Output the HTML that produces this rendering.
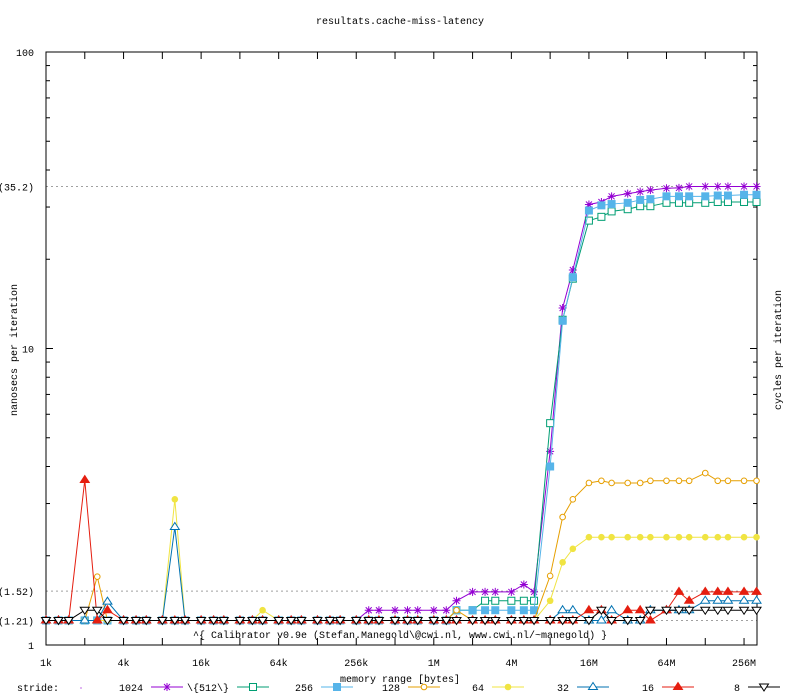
<!DOCTYPE html>
<html><head><meta charset="utf-8"><style>
body{margin:0;background:#fff}
svg{display:block;font-family:"Liberation Mono",monospace;font-size:10px}
</style></head><body>
<svg id="c" width="800" height="700" xmlns="http://www.w3.org/2000/svg"></svg>
<script>
const seriesNames=["1024","\\{512\\}","256","128","64","32","16","8"];
const seriesColors=["#9400d3","#009e73","#56b4e9","#e69f00","#f0e442","#0072b2","#e51e10","#000000"];
const seriesMarkers=["star","osq","fsq","ocirc","fcirc","otri","ftri","itri"];
const xTickLabels=["1k","4k","16k","64k","256k","1M","4M","16M","64M","256M"];
const yTickValues=[1,10,100];
const yMarkValues=[1.21,1.52,35.2];
function fill(n,v){return Array(n).fill(v);}
const s1024=[...fill(25,1.21),...fill(7,1.31),1.41,1.51,1.51,1.51,1.51,1.6,1.51,4.5,13.7,18.4,30.6,31.2,32.6,33.3,33.8,34.2,34.7,34.8,35.2,35.2,35.2,35.2,35.2,35.2];
const s512=[...fill(32,1.21),1.31,1.31,1.41,1.41,1.41,1.41,1.41,5.6,12.5,17.2,27,27.8,29,29.5,30.2,30.2,31,31,31,31,31.2,31.2,31.2,31.2];
const s256=[...fill(32,1.21),1.31,1.31,1.31,1.31,1.31,1.31,1.31,4.0,12.4,17.4,29.2,30.4,30.7,31,31.7,31.9,32.6,32.6,32.6,32.6,32.8,32.8,33,33];
const s128=[1.21,1.21,1.21,1.21,1.7,...fill(27,1.21),1.31,...fill(6,1.21),1.71,2.7,3.1,3.52,3.58,3.52,3.52,3.52,3.58,3.58,3.58,3.58,3.8,3.58,3.58,3.58,3.58];
const s64=[...fill(10,1.21),3.1,...fill(6,1.21),1.31,...fill(21,1.21),1.41,1.9,2.11,...fill(14,2.31)];
const s32=[1.21,1.21,1.21,1.21,1.21,1.4,1.21,1.21,1.21,1.21,2.5,...fill(29,1.21),1.31,1.31,1.21,1.21,1.31,1.21,1.21,1.31,1.31,1.31,1.31,1.41,1.41,1.41,1.41,1.41];
const s16=[1.21,1.21,1.21,3.6,1.21,1.31,...fill(36,1.21),1.31,1.31,1.21,1.31,1.31,1.21,1.31,1.51,1.41,1.51,1.51,1.51,1.51,1.51];
const s8=[1.21,1.21,1.21,1.31,1.31,...fill(38,1.21),1.31,1.21,1.21,1.21,1.31,1.31,1.31,1.31,1.31,1.31,1.31,1.31,1.31];
const seriesData=[s1024,s512,s256,s128,s64,s32,s16,s8];

const L=46,R=757,T=52,B=645,DX=38.78;
const xs=i=>L+DX*(Math.floor(i/3)+Math.log2([1,1.25,1.5][i%3]));
const ys=v=>B-Math.log10(v)*(B-T)/2;
const svg=document.getElementById('c');
const NS='http://www.w3.org/2000/svg';
function mk(tag,a,parent){const e=document.createElementNS(NS,tag);for(const k in a)e.setAttribute(k,a[k]);(parent||svg).appendChild(e);return e;}
function txt(s,x,y,a,parent){const e=mk('text',Object.assign({x:x,y:y},a||{}),parent);e.textContent=s;return e;}

let t=txt('resultats.cache-miss-latency',400,24,{'text-anchor':'middle'});

yMarkValues.forEach(v=>{
 const l=mk('line',{x1:L,x2:R,y1:ys(v),y2:ys(v),stroke:'#a0a0a0','stroke-dasharray':'2,3'});
 
 const tl=txt('('+v+')',34,ys(v)+4,{'text-anchor':'end'});
 
});
yTickValues.forEach(v=>{
 const tl=txt(String(v),34,ys(v)+4,{'text-anchor':'end'});
 
 if(v<100){mk('line',{x1:L,x2:L+7,y1:ys(v),y2:ys(v),stroke:'#000'});mk('line',{x1:R,x2:R-7,y1:ys(v),y2:ys(v),stroke:'#000'});
  for(let m=2;m<10;m++){const y=ys(v*m);mk('line',{x1:L,x2:L+4,y1:y,y2:y,stroke:'#000'});mk('line',{x1:R,x2:R-4,y1:y,y2:y,stroke:'#000'});}}
});
for(let k=1;k<=18;k++){const x=L+DX*k;mk('line',{x1:x,x2:x,y1:B,y2:B-7,stroke:'#000'});mk('line',{x1:x,x2:x,y1:T,y2:T+7,stroke:'#000'});}
xTickLabels.forEach((s,j)=>{const tl=txt(s,L+DX*2*j,666,{'text-anchor':'middle'});
 });
const fr=mk('rect',{x:L,y:T,width:R-L,height:B-T,fill:'none',stroke:'#000'});

t=txt('^{ Calibrator v0.9e (Stefan.Manegold\\@cwi.nl, www.cwi.nl/~manegold) }',193,638);

t=txt('memory range [bytes]',400,682,{'text-anchor':'middle'});

t=txt('nanosecs per iteration',17,350,{'text-anchor':'middle',transform:'rotate(-90 17 350)'});

t=txt('cycles per iteration',781,350,{'text-anchor':'middle',transform:'rotate(-90 781 350)'});


function marker(type,x,y,c,g){
 if(type==='star'){mk('path',{d:`M${x-4} ${y}H${x+4}M${x} ${y-4}V${y+4}M${x-3} ${y-3}L${x+3} ${y+3}M${x-3} ${y+3}L${x+3} ${y-3}`,stroke:c,fill:'none'},g);}
 else if(type==='osq')mk('rect',{x:x-3.5,y:y-3.5,width:7,height:7,fill:'#fff',stroke:c},g);
 else if(type==='fsq')mk('rect',{x:x-4,y:y-4,width:8,height:8,fill:c},g);
 else if(type==='ocirc')mk('circle',{cx:x,cy:y,r:2.8,fill:'#fff',stroke:c},g);
 else if(type==='fcirc')mk('circle',{cx:x,cy:y,r:3.3,fill:c},g);
 else if(type==='otri')mk('path',{d:`M${x} ${y-4.5}L${x+4.5} ${y+2.5}L${x-4.5} ${y+2.5}Z`,fill:'#fff',stroke:c},g);
 else if(type==='ftri')mk('path',{d:`M${x} ${y-4.5}L${x+4.5} ${y+2.5}L${x-4.5} ${y+2.5}Z`,fill:c,stroke:c},g);
 else if(type==='itri')mk('path',{d:`M${x} ${y+4}L${x+4.5} ${y-3}L${x-4.5} ${y-3}Z`,fill:'#fff',stroke:c},g);
}
seriesData.forEach((d,si)=>{
 const g=mk('g',{});
 
 
 const c=seriesColors[si];
 mk('polyline',{points:d.map((v,i)=>xs(i)+','+ys(v)).join(' '),fill:'none',stroke:c},g);
 d.forEach((v,i)=>marker(seriesMarkers[si],xs(i),ys(v),c,g));
});
t=txt('stride:',17,691);
mk('circle',{cx:81,cy:688,r:0.6,fill:'#9400d3'});
const legEnd=[143,229,313,400,484,569,654,740];
seriesNames.forEach((n,si)=>{
 const g=mk('g',{});
 
 
 txt(n,legEnd[si],691,{'text-anchor':'end'},g);
 const x0=legEnd[si]+8;
 mk('line',{x1:x0,x2:x0+32,y1:687,y2:687,stroke:seriesColors[si]},g);
 marker(seriesMarkers[si],x0+16,687,seriesColors[si],g);
});
</script>
</body></html>
